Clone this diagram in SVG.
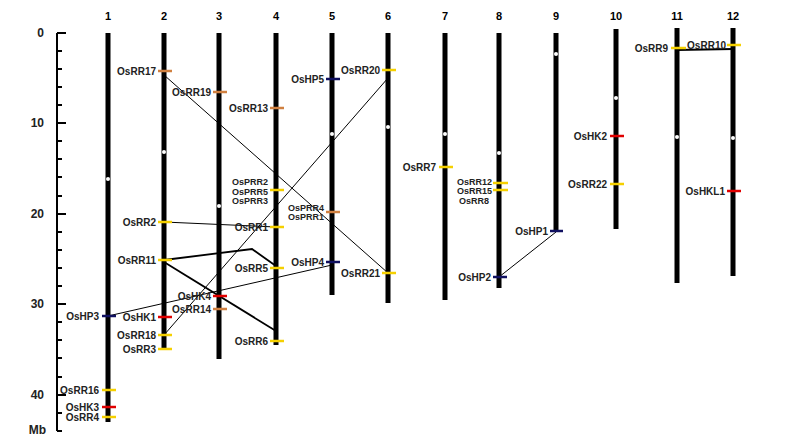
<svg xmlns="http://www.w3.org/2000/svg" width="800" height="438" viewBox="0 0 800 438">
<style>
.chr{stroke:#000;stroke-width:5}
.cen{fill:#fff}
.m{stroke-width:2.5}
.y{stroke:#f5d000}.o{stroke:#d08040}.r{stroke:#e00000}.n{stroke:#101060}
text{font-family:"Liberation Sans",Arial,sans-serif;font-weight:bold;font-size:10px;fill:#222}
.l{text-anchor:end}
.s{font-size:9px}
.num{text-anchor:middle;font-size:11px;fill:#000}
.ax{stroke:#000;stroke-width:2}
.c{stroke:#000;fill:none;stroke-width:1}
.c2{stroke:#000;fill:none;stroke-width:1.8}
</style>
<rect width="800" height="438" fill="#fff"/>
<g id="axis">
<line class="ax" x1="57" y1="33" x2="57" y2="431"/>
<g class="ax" stroke-width="1.5">
<line x1="57" y1="33" x2="66" y2="33"/><line x1="57" y1="51" x2="62" y2="51"/><line x1="57" y1="69" x2="62" y2="69"/><line x1="57" y1="87" x2="62" y2="87"/><line x1="57" y1="105" x2="62" y2="105"/><line x1="57" y1="123" x2="66" y2="123"/><line x1="57" y1="141" x2="62" y2="141"/><line x1="57" y1="159" x2="62" y2="159"/><line x1="57" y1="177" x2="62" y2="177"/><line x1="57" y1="196" x2="62" y2="196"/><line x1="57" y1="214" x2="66" y2="214"/><line x1="57" y1="232" x2="62" y2="232"/><line x1="57" y1="250" x2="62" y2="250"/><line x1="57" y1="268" x2="62" y2="268"/><line x1="57" y1="286" x2="62" y2="286"/><line x1="57" y1="304" x2="66" y2="304"/><line x1="57" y1="322" x2="62" y2="322"/><line x1="57" y1="340" x2="62" y2="340"/><line x1="57" y1="358" x2="62" y2="358"/><line x1="57" y1="377" x2="62" y2="377"/><line x1="57" y1="395" x2="66" y2="395"/><line x1="57" y1="413" x2="62" y2="413"/><line x1="57" y1="431" x2="62" y2="431"/>
</g>
<g><text x="44" y="37" class="l" style="font-size:12px">0</text><text x="44" y="127" class="l" style="font-size:12px">10</text><text x="44" y="218" class="l" style="font-size:12px">20</text><text x="44" y="308" class="l" style="font-size:12px">30</text><text x="44" y="399" class="l" style="font-size:12px">40</text><text x="46" y="434" class="l" style="font-size:12px">Mb</text></g>
</g>
<g id="connectors">
<line class="c" x1="164" y1="75" x2="388" y2="273"/>
<line class="c" x1="388" y1="78" x2="164" y2="335"/>
<line class="c" x1="164" y1="222" x2="276" y2="227"/>
<polyline class="c2" points="164,260 252,249 276,266"/>
<line class="c2" x1="164" y1="262" x2="276" y2="331"/>
<line class="c" x1="108" y1="316" x2="332" y2="265"/>
<line class="c" x1="499" y1="277" x2="556" y2="232"/>
<line class="c2" x1="677" y1="50" x2="733" y2="49"/>
</g>
<g id="chr1"><text class="num" x="108" y="20">1</text><line class="chr" x1="108" y1="33" x2="108" y2="422"/><circle class="cen" cx="108" cy="179" r="2"/>
<line class="m n" x1="102" y1="316" x2="116" y2="316"/><text class="l" x="99" y="320">OsHP3</text>
<line class="m y" x1="102" y1="390" x2="116" y2="390"/><text class="l" x="99" y="394">OsRR16</text>
<line class="m r" x1="102" y1="407" x2="116" y2="407"/><text class="l" x="99" y="411">OsHK3</text>
<line class="m y" x1="102" y1="417" x2="116" y2="417"/><text class="l" x="99" y="421">OsRR4</text></g>
<g id="chr2"><text class="num" x="164" y="20">2</text><line class="chr" x1="164" y1="33" x2="164" y2="350"/><circle class="cen" cx="164" cy="152" r="2"/>
<line class="m o" x1="158" y1="71" x2="172" y2="71"/><text class="l" x="156" y="75">OsRR17</text>
<line class="m y" x1="158" y1="222" x2="172" y2="222"/><text class="l" x="156" y="226">OsRR2</text>
<line class="m y" x1="158" y1="260" x2="172" y2="260"/><text class="l" x="156" y="264">OsRR11</text>
<line class="m r" x1="158" y1="317" x2="172" y2="317"/><text class="l" x="156" y="321">OsHK1</text>
<line class="m y" x1="158" y1="335" x2="172" y2="335"/><text class="l" x="156" y="339">OsRR18</text>
<line class="m y" x1="158" y1="349" x2="172" y2="349"/><text class="l" x="156" y="353">OsRR3</text></g>
<g id="chr3"><text class="num" x="219" y="20">3</text><line class="chr" x1="219" y1="33" x2="219" y2="359"/><circle class="cen" cx="219" cy="206" r="2"/>
<line class="m o" x1="213" y1="92" x2="227" y2="92"/><text class="l" x="211" y="96">OsRR19</text>
<line class="m r" x1="213" y1="296" x2="227" y2="296"/><text class="l" x="211" y="300">OsHK4</text>
<line class="m o" x1="213" y1="309" x2="227" y2="309"/><text class="l" x="211" y="313">OsRR14</text></g>
<g id="chr4"><text class="num" x="276" y="20">4</text><line class="chr" x1="276" y1="33" x2="276" y2="345"/>
<line class="m o" x1="270" y1="108" x2="284" y2="108"/><text class="l" x="268" y="112">OsRR13</text>
<line class="m y" x1="270" y1="190" x2="284" y2="190"/><text class="l s" x="268" y="185">OsPRR2</text><text class="l s" x="268" y="194.5">OsPRR5</text><text class="l s" x="268" y="204">OsPRR3</text>
<line class="m y" x1="270" y1="227" x2="284" y2="227"/><text class="l" x="268" y="231">OsRR1</text>
<line class="m y" x1="270" y1="268" x2="284" y2="268"/><text class="l" x="268" y="272">OsRR5</text>
<line class="m y" x1="270" y1="341" x2="284" y2="341"/><text class="l" x="268" y="345">OsRR6</text></g>
<g id="chr5"><text class="num" x="332" y="20">5</text><line class="chr" x1="332" y1="33" x2="332" y2="295"/><circle class="cen" cx="332" cy="134" r="2"/>
<line class="m n" x1="326" y1="79" x2="340" y2="79"/><text class="l" x="324" y="83">OsHP5</text>
<line class="m o" x1="326" y1="212" x2="340" y2="212"/><text class="l s" x="324" y="210.5">OsPRR4</text><text class="l s" x="324" y="220">OsPRR1</text>
<line class="m n" x1="326" y1="262" x2="340" y2="262"/><text class="l" x="324" y="266">OsHP4</text></g>
<g id="chr6"><text class="num" x="388" y="20">6</text><line class="chr" x1="388" y1="33" x2="388" y2="303"/><circle class="cen" cx="388" cy="127" r="2"/>
<line class="m y" x1="382" y1="70" x2="396" y2="70"/><text class="l" x="380" y="74">OsRR20</text>
<line class="m y" x1="382" y1="273" x2="396" y2="273"/><text class="l" x="380" y="277">OsRR21</text></g>
<g id="chr7"><text class="num" x="445" y="20">7</text><line class="chr" x1="445" y1="33" x2="445" y2="300"/><circle class="cen" cx="445" cy="134" r="2"/>
<line class="m y" x1="439" y1="167" x2="453" y2="167"/><text class="l" x="436" y="171">OsRR7</text></g>
<g id="chr8"><text class="num" x="499" y="20">8</text><line class="chr" x1="499" y1="33" x2="499" y2="288"/><circle class="cen" cx="499" cy="153" r="2"/>
<line class="m y" x1="493" y1="183" x2="508" y2="183"/><text class="l s" x="492" y="184.5">OsRR12</text>
<line class="m y" x1="493" y1="190" x2="508" y2="190"/><text class="l s" x="492" y="194">OsRR15</text><text class="l s" x="489" y="203.5">OsRR8</text>
<line class="m n" x1="493" y1="277" x2="507" y2="277"/><text class="l" x="491" y="281">OsHP2</text></g>
<g id="chr9"><text class="num" x="556" y="20">9</text><line class="chr" x1="556" y1="33" x2="556" y2="232"/><circle class="cen" cx="556" cy="54" r="2"/>
<line class="m n" x1="550" y1="231" x2="563" y2="231"/><text class="l" x="548" y="235">OsHP1</text></g>
<g id="chr10"><text class="num" x="616" y="20">10</text><line class="chr" x1="616" y1="29" x2="616" y2="229"/><circle class="cen" cx="616" cy="98" r="2"/>
<line class="m r" x1="610" y1="136" x2="624" y2="136"/><text class="l" x="607" y="140">OsHK2</text>
<line class="m y" x1="610" y1="184" x2="624" y2="184"/><text class="l" x="607" y="188">OsRR22</text></g>
<g id="chr11"><text class="num" x="677" y="20">11</text><line class="chr" x1="677" y1="28" x2="677" y2="283"/><circle class="cen" cx="677" cy="137" r="2"/>
<line class="m y" x1="671" y1="48" x2="686" y2="48"/><text class="l" x="668" y="52">OsRR9</text></g>
<g id="chr12"><text class="num" x="733" y="20">12</text><line class="chr" x1="733" y1="28" x2="733" y2="276"/><circle class="cen" cx="733" cy="138" r="2"/>
<line class="m y" x1="727" y1="45" x2="741" y2="45"/><text class="l" x="726" y="49">OsRR10</text>
<line class="m r" x1="727" y1="191" x2="741" y2="191"/><text class="l" x="725" y="195">OsHKL1</text></g>
</svg>
